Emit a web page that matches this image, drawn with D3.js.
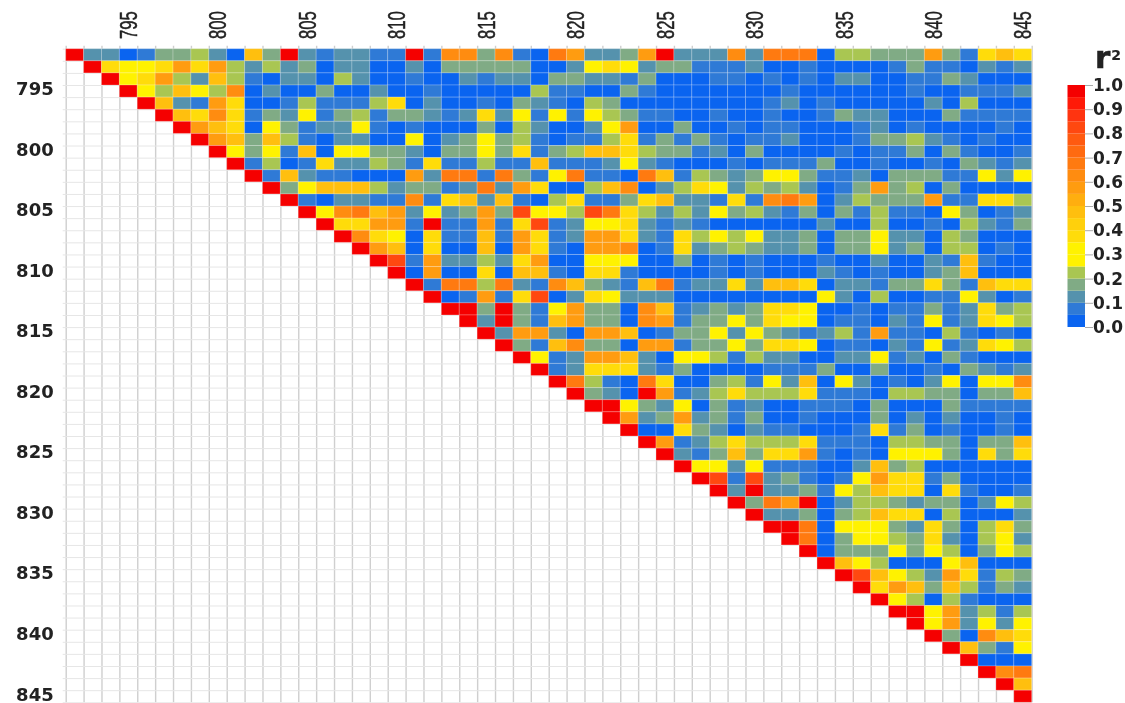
<!DOCTYPE html>
<html>
<head>
<meta charset="utf-8">
<script src="https://cdn.jsdelivr.net/npm/d3@7"></script>
<style>
  html, body { margin: 0; background: #fff; }
  svg { display: block; filter: blur(0.45px); }
</style>
</head>
<body>
<div id="chart"></div>
<script>
// marker positions, first and last
const firstPos = 792
const lastPos = 845
const labelStep = 5

// r2 value behind each letter in the rows below
const r2Codes = ['a', 'b', 'c', 'd', 'e', 'f', 'g', 'h', 'i', 'j', 'k', 'l', 'm']
const r2Values = [0.02, 0.07, 0.12, 0.17, 0.22, 0.3, 0.37, 0.47, 0.55, 0.62, 0.7, 0.85, 1]

// one string per row, starts on the diagonal
const r2Rows = [
  'mccabddecahdmcbccbbmbjjdjbakiccdimcccjckkkaeedddidbghg',
  'mgffgigiececdaccaacadddddaacfgfcddbbbcaabaaaabdbbacbc',
  'mfgiechebaccaecaabaacbccaddccbdaaabbababaccaabbdcaaa',
  'mfehfejacaadaacaabaaaaaebbaadbaaaaaaabaaaaaabaabbbc',
  'mhcbigaabebbbegacaabadcbaedaaaaaaaabcabaaaaacaeaaa',
  'mhgjgbdcfbdebddcbcgcfbfbfedbbaabaabaabdccaaadbbbb',
  'mihgafdbccfbabaaadaecaacfiaadaababbaaabcabaaaaba',
  'mihdhebaccaafacdfdebabbegbdbdbabbcaaabddecbabaa',
  'mfdfbhaffddcaddfdgbdehhgeddbcadaaaababbdadbaab',
  'mbeabgccedbgbbebbhbbbcfcbaaababbbdaabaabadcbc',
  'mbhcbbaaaickkbkdbfkbbakhbedcdffdbbcadddbbfcf',
  'mdfhhhecddbckcigaaehjacegfcedecabdideadaaaa',
  'mbaccbbjbghchbaegbbdghccbgbjkiacedddibbgge',
  'mfjkhicfcdidlffelkgececfdecbdadbebbafdabc',
  'mggiibmbbibglbcffgcbcbaaaaaacaaeaabaecbd',
  'mjgfagbbhbigbciigcbgefefccdaddfccaedaaa',
  'mihagaahaigbaiijabgcdedccdaddfcdaeeaba',
  'mlbiccecgiaafffaadababaaabaacaacbhbaa',
  'maiaagahhbaggbaaaababaaacbabaacdhaaa',
  'mbkkekcbjhdcbhkbccgchhgaccbddgdbhgg',
  'mabibglacgfcccaaaaaaaafcaeaabbfcab',
  'mmdmdbfiddajhbcdcdggfaababbdbcgde',
  'mcmdbhiddajibddfdgffabbacbfbcgfe',
  'mciicaiihabddfcfdcbcebibbaebaba',
  'mdbhjddaiibddfdggfabbacbfbcgfe',
  'mfbciihcaffebeccaaccfbcadbaaa',
  'mbcgggcbdaaaabbbdaadaabadcbc',
  'mkebakgaadebfchafcabacfaffj',
  'mdcamibcegeeegbbbaeeddaddh',
  'mmfdcfadbcaabbbadaaadbbbb',
  'micdicdbdaabaaadacacaaba',
  'maagdcacbbaaabgbdabaaba',
  'mibcegeeegbbbaeeddaddh',
  'mcbdhdggibabafffdagdg',
  'mffcfbbbaachdeaaaaaa',
  'mlblcdbabfiggbdaaaa',
  'mcmccdbfehggagbaab',
  'mdkimaceedcddacfe',
  'mccdadehggaeaaac',
  'mmkafffdcgdaegd',
  'mkadffedgcaefc',
  'madddfdfeadfe',
  'mhfeaaafhaaa',
  'mlhfecigbed',
  'mgihdhebdc',
  'mfeaebaaa',
  'mmficebe',
  'mficfcf',
  'mdajhg',
  'mhdbf',
  'maaa',
  'mjk',
  'mh',
  'm'
]

// legend bands, bottom to top, one per 0.05
const bandColors = ['#0a64f0', '#2f7ad6', '#5592ad', '#80ab85', '#a9c652',
  '#fff200', '#fff200', '#ffdc0a', '#ffd00c', '#ffbf0e',
  '#ffae0f', '#ff9c10', '#ff8c10', '#ff7a10', '#ff6a10',
  '#ff5a10', '#ff4810', '#ff3410', '#ff1a08', '#f50000']
const legendTicks = [0, 0.1, 0.2, 0.3, 0.4, 0.5, 0.6, 0.7, 0.8, 0.9, 1]

const width = 1125
const height = 703
const left = 65.7
const top_ = 48.7
const right = 1031.7
const bottom = 702.3

const positions = d3.range(firstPos, lastPos + 1)

const cells = []
r2Rows.forEach((s, i) => {
  s.split('').forEach((c, k) => {
    cells.push({
      row: positions[i],
      col: positions[i + k],
      r2: r2Values[r2Codes.indexOf(c)]
    })
  })
})

const svg = d3.select('#chart').append('svg').attr('width', width).attr('height', height)

const xBand = d3.scaleBand().domain(positions).range([left, right])
const yBand = d3.scaleBand().domain(positions).range([top_, bottom])
const xEdge = d3.scaleLinear().domain([firstPos, lastPos + 1]).range([left, right])
const yEdge = d3.scaleLinear().domain([firstPos, lastPos + 1]).range([top_, bottom])
const color = d3.scaleThreshold().domain(d3.range(1, 20).map(d => d * 0.05)).range(bandColors)

// background grid, also gives the small ticks outside the plot
const edges = d3.range(firstPos, lastPos + 2)
const gridX = svg.append('g').attr('transform', 'translate(0,' + top_ + ')')
  .call(d3.axisTop(xEdge).tickValues(edges).tickSize(-(bottom - top_)).tickFormat(''))
gridX.select('.domain').remove()
gridX.selectAll('line').attr('y1', -3).attr('stroke', '#cfcfcf').attr('stroke-width', 1.4)

const gridY = svg.append('g').attr('transform', 'translate(' + left + ',0)')
  .call(d3.axisLeft(yEdge).tickValues(edges).tickSize(-(right - left)).tickFormat(''))
gridY.select('.domain').remove()
gridY.selectAll('line').attr('x1', -3).attr('stroke', '#e6e6e6').attr('stroke-width', 1)

// heatmap
svg.append('g').selectAll('rect').data(cells).enter().append('rect')
  .attr('x', d => xBand(d.col))
  .attr('y', d => yBand(d.row))
  .attr('width', xBand.bandwidth())
  .attr('height', yBand.bandwidth())
  .attr('fill', d => color(d.r2))
  .attr('stroke', 'rgba(255,255,255,0.22)')
  .attr('stroke-width', 1)

// axis labels
const labelled = positions.filter(d => d % labelStep === 0)

const xAxis = svg.append('g').attr('transform', 'translate(0,' + top_ + ')')
  .call(d3.axisTop(xBand).tickValues(labelled).tickSize(0))
xAxis.select('.domain').remove()
xAxis.selectAll('text')
  .attr('x', 0).attr('y', 0).attr('dy', 0)
  .attr('text-anchor', 'start')
  .attr('transform', 'translate(8.7,-9.7) rotate(-90) scale(0.68,1)')
  .attr('fill', '#222')
  .attr('stroke', '#222')
  .attr('stroke-width', 0.5)
  .style('font', '24.6px "Liberation Sans"')

const yAxis = svg.append('g').attr('transform', 'translate(' + left + ',0)')
  .call(d3.axisLeft(yBand).tickValues(labelled).tickSize(0).tickPadding(12))
yAxis.select('.domain').remove()
yAxis.selectAll('text')
  .attr('y', -1.5)
  .attr('fill', '#222')
  .style('font', 'bold 18px "DejaVu Sans"')

// legend
const legendX = 1067.5
const legendW = 17.5
const legendY = d3.scaleLinear().domain([0, 1]).range([327, 85])

svg.append('g').selectAll('rect').data(bandColors).enter().append('rect')
  .attr('x', legendX)
  .attr('y', (d, i) => legendY((i + 1) * 0.05))
  .attr('width', legendW)
  .attr('height', (d, i) => legendY(i * 0.05) - legendY((i + 1) * 0.05))
  .attr('fill', d => d)

const legendAxis = svg.append('g').attr('transform', 'translate(' + (legendX + legendW) + ',0)')
  .call(d3.axisRight(legendY).tickValues(legendTicks).tickSize(8).tickPadding(0).tickFormat(d3.format('.1f')))
legendAxis.select('.domain').remove()
legendAxis.selectAll('line').attr('stroke', '#aaa')
legendAxis.selectAll('text')
  .attr('fill', '#222')
  .style('font', 'bold 17px "DejaVu Sans"')

const title = svg.append('text').attr('x', 1095).attr('y', 68)
  .attr('fill', '#222')
  .attr('stroke', '#222')
  .attr('stroke-width', 0.6)
  .style('font', 'bold 31px "DejaVu Sans"')
title.append('tspan').text('r')
title.append('tspan').attr('dy', -8).attr('dx', 1).attr('stroke-width', 0.2).style('font-size', '14px').text('2')
</script>
</body>
</html>
